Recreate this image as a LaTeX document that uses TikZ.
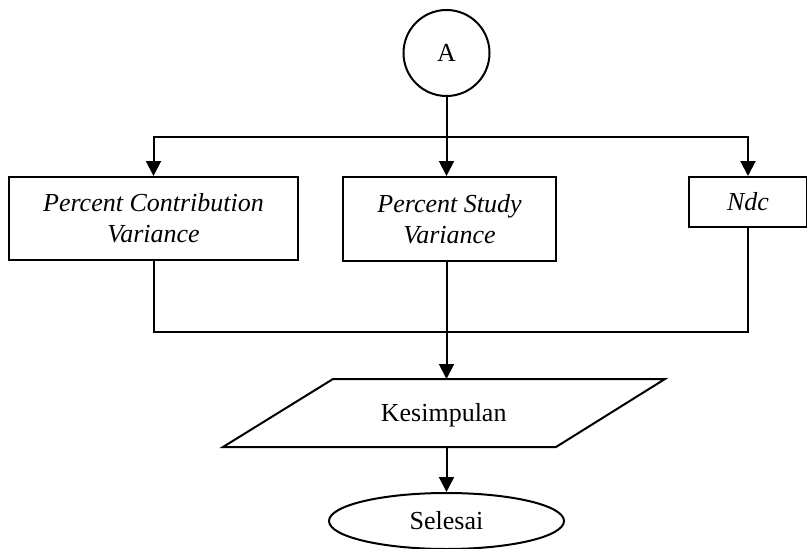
\documentclass[tikz,border=0pt]{standalone}
\usepackage{fontspec}
\setmainfont{Liberation Serif}
\usetikzlibrary{arrows.meta,shapes.geometric}
\begin{document}
\begin{tikzpicture}[x=1pt,y=-1pt,
  every node/.style={font=\fontsize{26}{31}\selectfont, inner sep=0pt},
  ln/.style={line width=2pt},
  arr/.style={ln,-{Triangle[width=15pt,length=15pt]}},
  box/.style={draw,ln,rectangle,align=center},
  term/.style={draw,ln,ellipse}]
\useasboundingbox (0,0) rectangle (807,549);
\node[draw,ln,circle,minimum size=86pt] (a) at (446.5,53) {A};
\node[box,minimum width=289pt,minimum height=83pt] (b1) at (153.5,218.5) {\itshape Percent Contribution\\\itshape Variance};
\node[box,minimum width=213pt,minimum height=84pt] (b2) at (449.5,219) {\itshape Percent Study\\\itshape Variance};
\node[box,minimum width=118pt,minimum height=50pt] (b3) at (748,202) {\itshape Ndc};
\coordinate (jt) at (446.5,136.7);
\coordinate (jb) at (446.5,332);
\coordinate (kt) at (446.5,379);
\coordinate (kb) at (446.5,447);
\draw[ln,line join=miter] (333,379) -- (665,379) -- (556,447) -- (223,447) -- cycle;
\node (k) at (443.7,415.5) {Kesimpulan};
\node[term,minimum width=235pt,minimum height=56pt] (s) at (446.5,521) {Selesai};
\draw[arr] (a.south) -- (a.south |- b2.north);
\draw[arr] (jt) -| (b1.north);
\draw[arr] (jt) -| (b3.north);
\draw[ln] (b1.south) |- (b3.south |- jb) -- (b3.south);
\draw[arr] (jt |- b2.south) -- (kt);
\draw[arr] (kb) -- (s.north);
\end{tikzpicture}
\end{document}
